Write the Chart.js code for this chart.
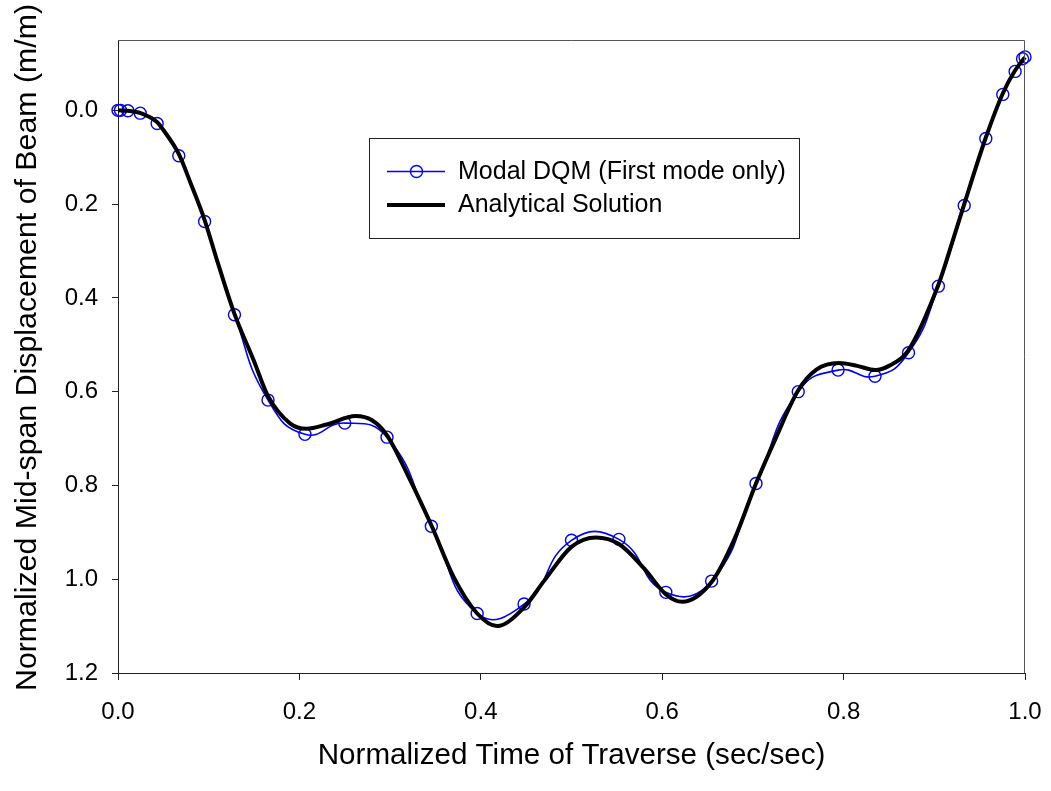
<!DOCTYPE html>
<html>
<head>
<meta charset="utf-8">
<script src="https://cdn.jsdelivr.net/npm/chart.js@4.4.1/dist/chart.umd.min.js"></script>
<style>
  html, body { margin: 0; padding: 0; background: #ffffff; }
  #wrap { width: 1051px; height: 791px; position: relative; }
</style>
</head>
<body>
<div id="wrap"><canvas id="beamChart" width="1051" height="791"></canvas></div>
<script>
// Modal DQM solution (first mode only) at the grid points
const dqmTime = [0, 0.0027, 0.0109, 0.0245, 0.0432, 0.0670, 0.0955, 0.1284, 0.1654, 0.2061,
                 0.2500, 0.2966, 0.3455, 0.3960, 0.4477, 0.5000, 0.5523, 0.6040, 0.6545, 0.7034,
                 0.7500, 0.7939, 0.8346, 0.8716, 0.9045, 0.9330, 0.9568, 0.9755, 0.9891, 0.9973, 1.0];
const dqmDisp = [0, 0, 0.001, 0.006, 0.028, 0.097, 0.237, 0.436, 0.618, 0.691,
                 0.667, 0.697, 0.887, 1.073, 1.053, 0.917, 0.915, 1.028, 1.004, 0.796,
                 0.600, 0.554, 0.567, 0.517, 0.375, 0.203, 0.060, -0.034, -0.083, -0.110, -0.114];

// Analytical solution
const exactTime = [0, 0.011, 0.025, 0.043, 0.05, 0.067, 0.08, 0.0955, 0.11, 0.1284,
                   0.15, 0.165, 0.19, 0.208, 0.23, 0.262, 0.28, 0.2966, 0.32, 0.3455,
                   0.37, 0.3955, 0.418, 0.4477, 0.47, 0.50, 0.527, 0.5523, 0.58, 0.6045,
                   0.622, 0.6545, 0.68, 0.7034, 0.725, 0.75, 0.77, 0.795, 0.815, 0.835,
                   0.85, 0.871, 0.9045, 0.92, 0.933, 0.9568, 0.9755, 0.989, 1.0];
const exactDisp = [0, 0.001, 0.006, 0.025, 0.042, 0.093, 0.155, 0.234, 0.325, 0.434,
                   0.535, 0.608, 0.668, 0.679, 0.670, 0.652, 0.661, 0.693, 0.780, 0.885,
                   0.995, 1.072, 1.100, 1.060, 1.003, 0.931, 0.911, 0.925, 0.977, 1.033,
                   1.048, 1.006, 0.913, 0.796, 0.700, 0.597, 0.553, 0.539, 0.545, 0.554,
                   0.545, 0.513, 0.372, 0.280, 0.200, 0.058, -0.036, -0.085, -0.113];

// Axis ticks
const xTicks = [0, 0.2, 0.4, 0.6, 0.8, 1.0];
const yTicks = [0, 0.2, 0.4, 0.6, 0.8, 1.0, 1.2];

const xTitle = 'Normalized Time of Traverse (sec/sec)';
const yTitle = 'Normalized Mid-span Displacement of Beam (m/m)';
const dqmLabel = 'Modal DQM (First mode only)';
const exactLabel = 'Analytical Solution';

const FONT = '"Liberation Sans", Arial, Helvetica, sans-serif';

const toPoints = (xs, ys) => xs.map((x, i) => ({ x: x, y: ys[i] }));

// Frame (top/right), axis titles and the boxed legend
const decorations = {
  id: 'decorations',
  afterDatasetsDraw(chart) {
    const ctx = chart.ctx;
    const a = chart.chartArea;
    ctx.save();
    // top and right frame lines
    ctx.strokeStyle = '#555555';
    ctx.lineWidth = 1;
    ctx.beginPath();
    ctx.moveTo(a.left, a.top + 0.5);
    ctx.lineTo(a.right - 0.5, a.top + 0.5);
    ctx.lineTo(a.right - 0.5, a.bottom);
    ctx.stroke();

    // legend box
    const bx = 369.5, by = 138.5, bw = 430, bh = 100;
    ctx.fillStyle = '#ffffff';
    ctx.fillRect(bx, by, bw, bh);
    ctx.strokeStyle = '#222222';
    ctx.strokeRect(bx, by, bw, bh);

    // DQM entry
    ctx.strokeStyle = '#0000ff';
    ctx.lineWidth = 1.6;
    ctx.beginPath();
    ctx.moveTo(387, 171.5);
    ctx.lineTo(445, 171.5);
    ctx.stroke();
    ctx.lineWidth = 1.4;
    ctx.beginPath();
    ctx.arc(416.5, 171.5, 6, 0, Math.PI * 2);
    ctx.stroke();

    // analytical entry
    ctx.strokeStyle = '#000000';
    ctx.lineWidth = 4;
    ctx.beginPath();
    ctx.moveTo(387, 205);
    ctx.lineTo(445, 205);
    ctx.stroke();

    ctx.fillStyle = '#000000';
    ctx.font = '25px ' + FONT;
    ctx.textAlign = 'left';
    ctx.textBaseline = 'alphabetic';
    ctx.fillText(dqmLabel, 458, 179);
    ctx.fillText(exactLabel, 458, 212);

    // axis titles
    ctx.font = '29.6px ' + FONT;
    ctx.textAlign = 'center';
    ctx.fillText(xTitle, (a.left + a.right) / 2, 764);
    ctx.font = '30.3px ' + FONT;
    ctx.translate(35.5, 347.5);
    ctx.rotate(-Math.PI / 2);
    ctx.fillText(yTitle, 0, 0);
    ctx.restore();
  }
};

new Chart(document.getElementById('beamChart'), {
  type: 'line',
  data: {
    datasets: [
      {
        label: exactLabel,
        data: toPoints(exactTime, exactDisp),
        borderColor: '#000000',
        borderWidth: 4,
        pointRadius: 0,
        cubicInterpolationMode: 'monotone',
        fill: false,
        clip: false,
        order: 0
      },
      {
        label: dqmLabel,
        data: toPoints(dqmTime, dqmDisp),
        borderColor: '#0000ff',
        borderWidth: 1.6,
        tension: 0.5,
        pointRadius: 6,
        pointBorderWidth: 1.4,
        pointBorderColor: '#0000ff',
        pointBackgroundColor: 'rgba(0,0,0,0)',
        fill: false,
        clip: false,
        order: 1
      }
    ]
  },
  options: {
    responsive: false,
    animation: false,
    events: [],
    layout: { padding: { top: 40, right: 26, left: 0, bottom: 0 } },
    plugins: { legend: { display: false }, tooltip: { enabled: false } },
    scales: {
      x: {
        type: 'linear',
        min: 0,
        max: 1,
        afterBuildTicks(scale) { scale.ticks = xTicks.map(v => ({ value: v })); },
        afterFit(scale) {
          scale.height = 118;
          scale.paddingLeft = 0;
          scale.paddingRight = 0;
        },
        grid: { drawOnChartArea: false, drawTicks: true, tickLength: 7, color: '#222222' },
        border: { display: true, color: '#222222', width: 1 },
        ticks: {
          color: '#000000',
          font: { family: FONT, size: 24 },
          padding: 18,
          maxRotation: 0,
          callback: v => Number(v).toFixed(1)
        }
      },
      y: {
        type: 'linear',
        reverse: true,
        min: -0.15,
        max: 1.2,
        afterBuildTicks(scale) { scale.ticks = yTicks.map(v => ({ value: v })); },
        afterFit(scale) {
          scale.width = 118;
          scale.paddingTop = 0;
          scale.paddingBottom = 0;
        },
        grid: { drawOnChartArea: false, drawTicks: true, tickLength: 6, color: '#222222' },
        border: { display: true, color: '#222222', width: 1 },
        ticks: {
          color: '#000000',
          font: { family: FONT, size: 24 },
          padding: 14,
          callback: v => Number(v).toFixed(1)
        }
      }
    }
  },
  plugins: [decorations]
});
</script>
</body>
</html>
